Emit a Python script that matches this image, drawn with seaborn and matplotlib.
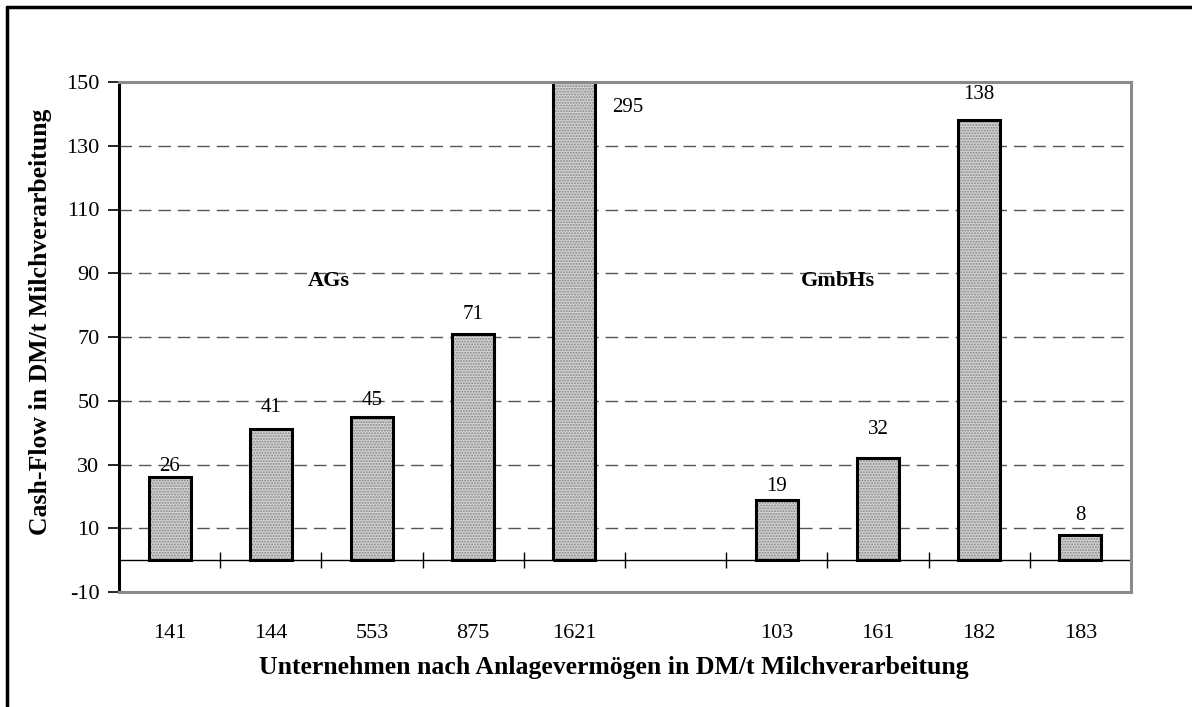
import matplotlib
matplotlib.use("Agg")
import matplotlib.pyplot as plt
from matplotlib.lines import Line2D
import seaborn as sns
import pandas as pd

# Cash-flow per company, grouped AGs / GmbHs (blank slot separates the groups)
ag_companies = ["141", "144", "553", "875", "1621"]
ag_cashflow = [26, 41, 45, 71, 295]
gmbh_companies = ["103", "161", "182", "183"]
gmbh_cashflow = [19, 32, 138, 8]
gap = [" "]
order = ag_companies + gap + gmbh_companies

# Vertical offset of each value label above its bar (data units)
label_lift = [3.5, 7, 5, 6, 0, 4, 9, 8, 6]

y_ticks = list(range(-10, 151, 20))
grid_levels = list(range(10, 131, 20))

df = pd.DataFrame({
    "company": ag_companies + gmbh_companies,
    "cashflow": ag_cashflow + gmbh_cashflow,
})

sns.set_style("white")
plt.rcParams["font.family"] = ["Liberation Serif", "DejaVu Serif"]
plt.rcParams["text.color"] = "black"
plt.rcParams["axes.labelcolor"] = "black"
plt.rcParams["xtick.color"] = "black"
plt.rcParams["ytick.color"] = "black"
plt.rcParams["hatch.linewidth"] = 0.9

fig = plt.figure(figsize=(11.92, 7.07), dpi=100)
ax = fig.add_axes([119 / 1192, 1 - 592 / 707, 1012 / 1192, 510 / 707])

# stippled fill
sns.barplot(data=df, x="company", y="cashflow", order=order, width=0.415,
            color="#d0d0d0", saturation=1, linewidth=0, ax=ax, zorder=3)
for p in ax.patches:
    p.set_hatch("......")
    p.set_edgecolor("#858585")
    p.set_linewidth(0)
# black outline
sns.barplot(data=df, x="company", y="cashflow", order=order, width=0.415,
            fill=False, edgecolor="black", linewidth=2.2, ax=ax, zorder=4)

ax.set_ylim(-10, 150)
ax.set_xlim(-0.5, len(order) - 0.5)
ax.set_yticks(y_ticks)
ax.set_yticklabels([str(t) for t in y_ticks])

for lvl in grid_levels:
    ax.axhline(lvl, color="#555555", lw=1.0, dashes=(9, 5), zorder=1)
ax.axhline(0, color="black", lw=1.0, zorder=5)
ax.vlines([i + 0.5 for i in range(len(order))], -2.6, 2.6,
          color="black", lw=1.0, zorder=5)

# value labels
values = ag_cashflow + gmbh_cashflow
positions = [order.index(c) for c in ag_companies + gmbh_companies]
top = ax.get_ylim()[1]
for pos, val, lift in zip(positions, values, label_lift):
    if val > top:
        ax.text(pos + 0.53, top - 8, str(val), ha="center", va="center",
                fontsize=15, zorder=6)
    else:
        ax.text(pos, val + lift, str(val), ha="center", va="center",
                fontsize=15, zorder=6)

# group captions
ax.text(1.57, 87.5, "AGs", ha="center", va="center", fontsize=16,
        fontweight="bold")
ax.text(6.6, 87.5, "GmbHs", ha="center", va="center", fontsize=16,
        fontweight="bold")

for side in ["top", "right", "bottom"]:
    ax.spines[side].set_color("#8a8a8a")
    ax.spines[side].set_linewidth(2.2)
ax.spines["left"].set_color("black")
ax.spines["left"].set_linewidth(2.2)
for s in ax.spines.values():
    s.set_zorder(7)

ax.tick_params(axis="y", length=8, width=1.2, color="black", direction="out",
               labelsize=16, pad=6, left=True)
ax.tick_params(axis="x", length=0, labelsize=16, pad=23)

ax.set_xlabel("Unternehmen nach Anlagevermögen in DM/t Milchverarbeitung",
              fontsize=18.5, fontweight="bold")
ax.set_ylabel("Cash-Flow in DM/t Milchverarbeitung",
              fontsize=18.5, fontweight="bold")
ax.xaxis.label.set_va("center")
ax.yaxis.label.set_va("center")
ax.xaxis.set_label_coords(0.489, -0.149)
ax.yaxis.set_label_coords(-0.078, 0.53)

# outer frame (left and top edges)
fig.add_artist(Line2D([7 / 1192, 7 / 1192], [0, 1 - 7 / 707],
                      transform=fig.transFigure, color="black", lw=2.5))
fig.add_artist(Line2D([7 / 1192, 1], [1 - 7 / 707, 1 - 7 / 707],
                      transform=fig.transFigure, color="black", lw=2.5))

fig.savefig("out.png", dpi=100)
